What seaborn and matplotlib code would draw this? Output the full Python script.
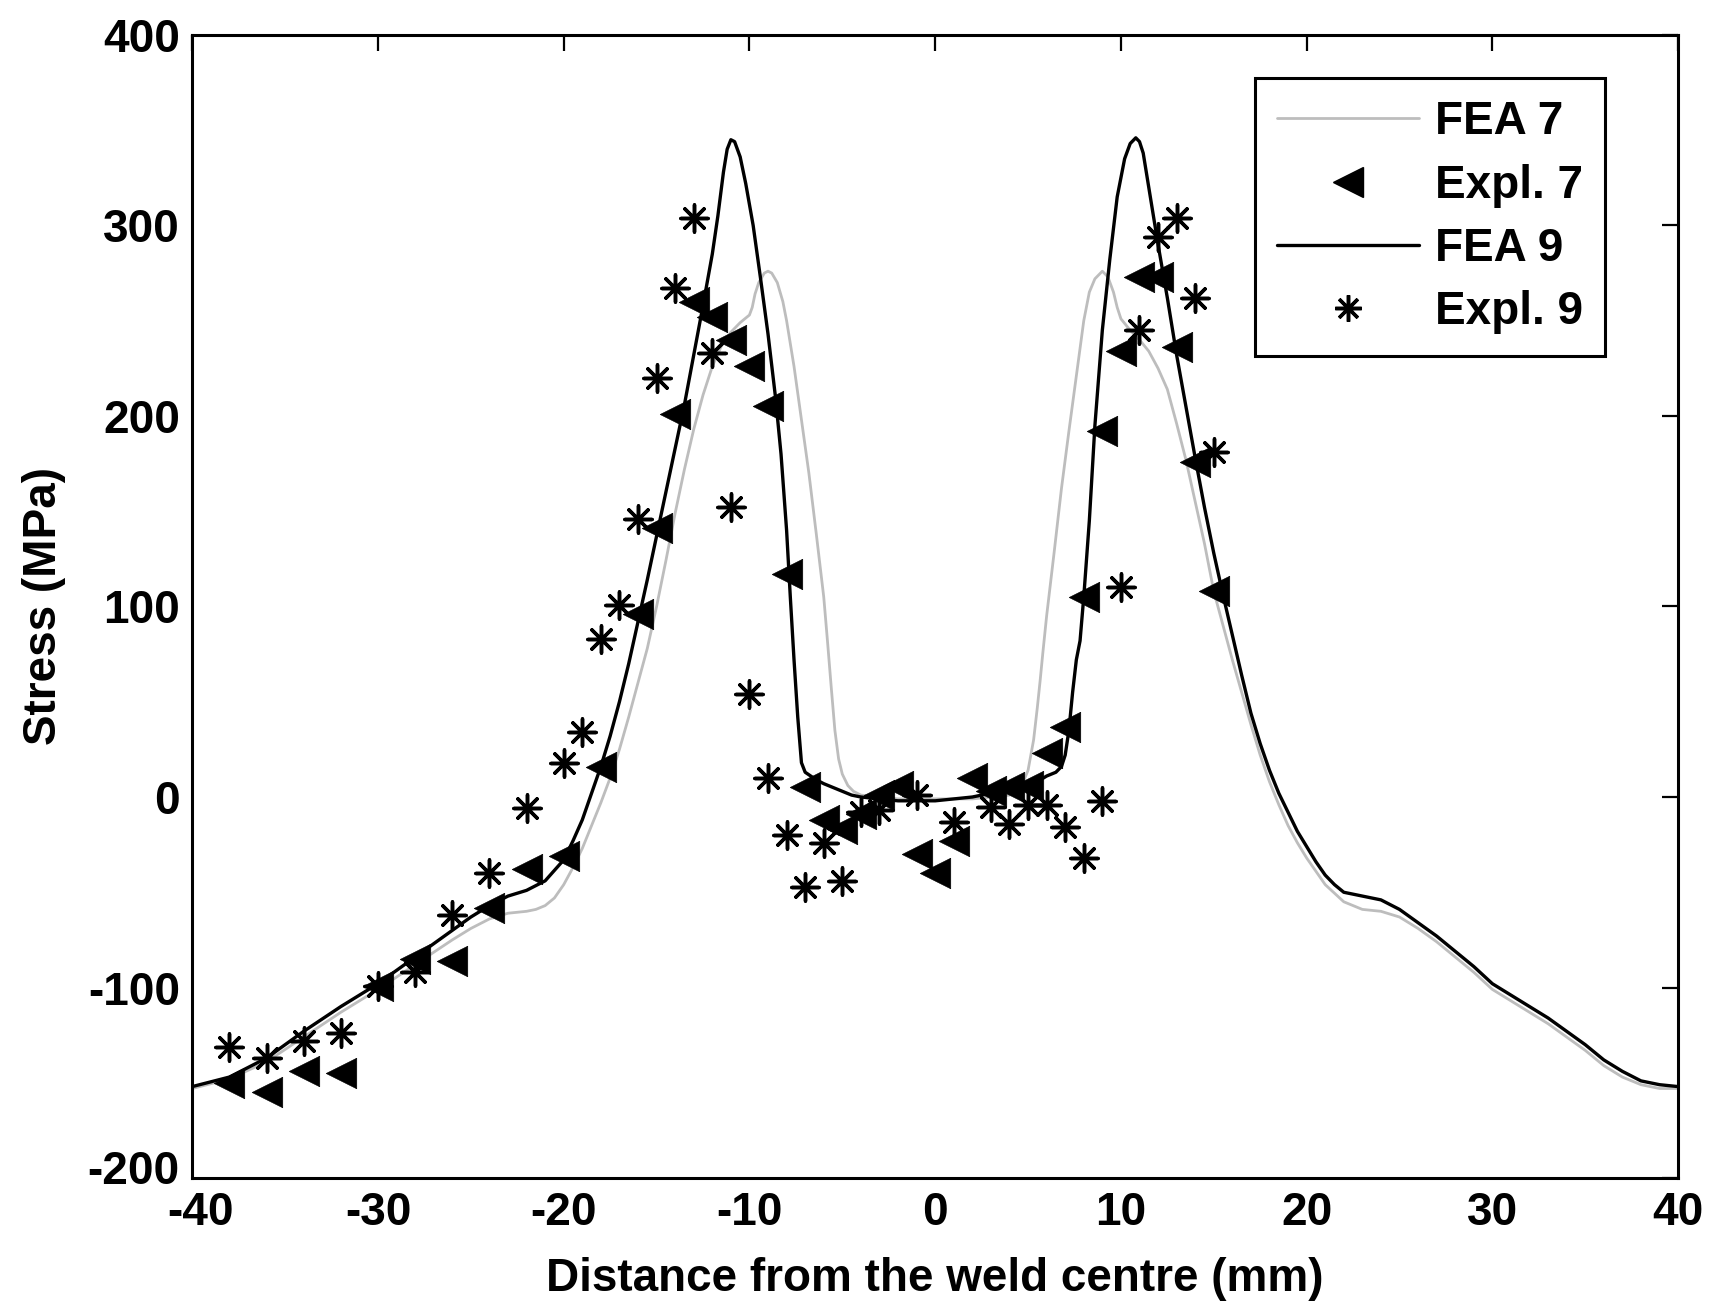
import numpy as np
import pandas as pd
import matplotlib
matplotlib.use("Agg")
import matplotlib.pyplot as plt
import matplotlib.transforms as mtransforms
from matplotlib.lines import Line2D
import seaborn as sns

# ---------------- data ----------------
fea7_x = [-40, -38, -36, -34, -32, -30, -28, -26, -25, -24, -23, -22, -21.5, -21, -20.5, -20,
          -19.5, -19, -18.5, -18, -17.5, -17, -16.5, -16, -15.5, -15, -14.5, -14, -13.5, -13,
          -12.5, -12, -11.5, -11, -10.5, -10, -9.85, -9.7, -9.5, -9.2, -9.0, -8.8, -8.5, -8.2,
          -8, -7.6, -7.2, -6.8, -6.4, -6.0, -5.8, -5.6, -5.4, -5.2, -5.0, -4.7, -4.4, -4, -3,
          -2, 0, 2, 3, 4, 4.4, 4.7, 5.0, 5.3, 5.5, 5.65, 5.8, 6.0, 6.4, 6.8, 7.2, 7.6, 8.0, 8.3,
          8.6, 9.0, 9.3, 9.6, 9.8, 10.0, 10.5, 11.0, 11.5, 12.0, 12.5, 13.0, 13.5, 14.0, 14.5,
          15.0, 15.5, 16.0, 16.5, 17, 17.5, 18, 18.5, 19, 19.5, 20, 21, 22, 23, 24, 25, 26, 27,
          28, 29, 30, 31, 32, 33, 34, 35, 36, 37, 38, 39, 40]
fea7_y = [-153, -148, -139, -126, -113, -101, -88, -75, -69, -64, -61, -60, -59, -57, -53, -46,
          -37, -27, -15, -3, 10, 25, 42, 60, 78, 100, 124, 149, 172, 193,
          211, 226, 237, 244, 249, 253, 257, 264, 270, 275, 276, 275, 270, 260,
          250, 226, 198, 170, 138, 105, 82, 58, 35, 20, 12, 6, 3, 1, 0,
          -1, -1, -1, 0, 1, 3, 7, 14, 30, 47, 61, 76, 95, 128, 162, 192, 221, 250, 265,
          272, 276, 273, 265, 257, 251, 245, 240, 234, 225, 214, 196, 177, 155, 133,
          108, 90, 72, 55, 38, 22, 8, -4, -15, -24, -32, -46, -55, -59, -60, -63, -69, -76,
          -84, -92, -101, -107, -113, -119, -126, -133, -141, -147, -151, -153, -153]

fea9_x = [-40, -38, -36, -34, -32, -30, -28, -26, -25, -24, -23, -22, -21, -20, -19.5, -19,
          -18.5, -18, -17.5, -17, -16.5, -16, -15.5, -15, -14.5, -14, -13.5, -13, -12.5, -12,
          -11.7, -11.4, -11.2, -11, -10.8, -10.5, -10.2, -9.8, -9.4, -9, -8.6, -8.3, -8, -7.8,
          -7.6, -7.4, -7.2, -7, -6.7, -6.4, -6, -5.5, -5, -4.5, -4, -3, -2, -1, 0, 1, 2, 3, 4,
          5, 5.5, 6, 6.5, 6.8, 7.0, 7.2, 7.4, 7.6, 7.8, 8.0, 8.3, 8.6, 9.0, 9.4, 9.8, 10.2,
          10.5, 10.8, 11.0, 11.2, 11.5, 12, 12.5, 13, 13.5, 14, 14.5, 15, 15.5, 16, 16.5, 17,
          17.5, 18, 18.5, 19, 19.5, 20, 20.5, 21, 21.5, 22, 23, 24, 25, 26, 27, 28, 29, 30, 31,
          32, 33, 34, 35, 36, 37, 38, 39, 40]
fea9_y = [-152, -147, -137, -123, -110, -98, -84, -70, -63, -57, -52, -49, -44, -33, -23, -12,
          2, 16, 32, 50, 70, 92, 114, 137, 160, 183, 206, 232, 258, 285,
          305, 328, 340, 345, 344, 336, 322, 300, 272, 243, 210, 180, 140, 105,
          72, 42, 18, 13, 11, 9, 7, 5, 3, 1, 0, -1, -2, -2, -2, -1, 0, 2, 4,
          6, 8, 11, 13, 16, 22, 35, 55, 72, 82, 105, 145, 195, 245, 282, 315, 335,
          343, 346, 344, 338, 320, 290, 262, 232, 205, 178, 152, 128, 106, 85, 64, 44,
          28, 14, 2, -8, -18, -26, -34, -41, -46, -50, -52, -54, -59, -66, -73, -81, -89, -98, -104,
          -110, -116, -123, -130, -138, -144, -149, -151, -152]

expl7_x = [-38, -36, -34, -32, -30, -28, -26, -24, -22, -20, -18, -16, -15, -14, -13, -12, -11,
           -10, -9, -8, -7, -6, -5, -4, -3, -2, -1, 0, 1, 2, 3, 4, 5, 6, 7, 8, 9, 10, 11, 12,
           13, 14, 15]
expl7_y = [-150, -155, -144, -145, -99, -85, -86, -58, -38, -31, 16, 96, 141, 201, 260, 252, 240,
           226, 205, 117, 5, -12, -17, -9, 1, 6, -30, -40, -23, 10, 3, 5, 6, 23, 37, 105, 192, 234,
           273, 273, 236, 176, 108]

expl9_x = [-38, -36, -34, -32, -30, -28, -26, -24, -22, -20, -19, -18, -17, -16, -15, -14, -13,
           -12, -11, -10, -9, -8, -7, -6, -5, -4, -3, -1, 1, 3, 4, 5, 6, 7, 8, 9, 10, 11, 12,
           13, 14, 15]
expl9_y = [-131, -137, -128, -124, -99, -92, -62, -40, -6, 18, 34, 83, 101, 146, 220, 267, 304,
           233, 152, 54, 10, -20, -47, -24, -44, -8, -7, 1, -13, -5, -14, -4, -4, -16, -32, -2,
           110, 245, 294, 304, 262, 181]

x_ticks = [-40, -30, -20, -10, 0, 10, 20, 30, 40]
y_ticks = [-200, -100, 0, 100, 200, 300, 400]
labels = ["FEA 7", "Expl. 7", "FEA 9", "Expl. 9"]

# ---------------- style ----------------
sns.set_theme(style="white")
plt.rcParams["font.family"] = ["Liberation Sans", "DejaVu Sans"]
plt.rcParams["font.weight"] = "bold"
for k in ["text.color", "axes.labelcolor", "xtick.color", "ytick.color", "axes.edgecolor"]:
    plt.rcParams[k] = "black"
FS = 33

fig = plt.figure(figsize=(17.12, 13.04), dpi=100)
fig.patch.set_facecolor("white")
ax = fig.add_axes([0.1123, 0.0966, 0.8679, 0.8766])
ax.set_facecolor("white")

GREY = "#bdbdbd"
star = (8, 2, 0)

df7 = pd.DataFrame({"x": fea7_x, "y": fea7_y})
df9 = pd.DataFrame({"x": fea9_x, "y": fea9_y})
e7 = pd.DataFrame({"x": expl7_x, "y": expl7_y})
e9 = pd.DataFrame({"x": expl9_x, "y": expl9_y})

sns.lineplot(data=df7, x="x", y="y", ax=ax, color=GREY, linewidth=2.0, legend=False)
sns.scatterplot(data=e7, x="x", y="y", ax=ax, marker="<", s=480, color="black",
                edgecolor="black", linewidth=0.5, legend=False, zorder=3)
sns.lineplot(data=df9, x="x", y="y", ax=ax, color="black", linewidth=2.4, legend=False, zorder=4)
sns.scatterplot(data=e9, x="x", y="y", ax=ax, marker=star, s=380, color="black",
                linewidth=2.5, legend=False, zorder=5)

ax.set_xlim(-40, 40)
ax.set_ylim(-200, 400)
ax.set_xticks(x_ticks)
ax.set_yticks(y_ticks)
ax.set_xticklabels([str(v) for v in x_ticks])
ax.set_yticklabels([str(v) for v in y_ticks])

ax.tick_params(axis="both", which="major", direction="in", length=11.5, width=1.6,
               top=True, right=True, labelsize=FS, colors="black")
ax.tick_params(axis="x", pad=9)
ax.tick_params(axis="y", pad=9)
for lab in ax.get_xticklabels() + ax.get_yticklabels():
    lab.set_fontweight("bold")

# keep the corner labels "-200" and "-40" from colliding
lab_m200 = ax.get_yticklabels()[0]
lab_m200.set_transform(lab_m200.get_transform() +
                       mtransforms.ScaledTranslation(0, 8 / 72, fig.dpi_scale_trans))
lab_m40 = ax.get_xticklabels()[0]
lab_m40.set_transform(lab_m40.get_transform() +
                      mtransforms.ScaledTranslation(6 / 72, 0, fig.dpi_scale_trans))

for sp in ax.spines.values():
    sp.set_visible(True)
    sp.set_color("black")
    sp.set_linewidth(2.2)

ax.set_xlabel("Distance from the weld centre (mm)", fontsize=FS, fontweight="bold", color="black")
ax.set_ylabel("Stress (MPa)", fontsize=FS, fontweight="bold", color="black")
ax.xaxis.label.set_va("center")
ax.yaxis.label.set_va("center")
ax.xaxis.set_label_coords(0.5, -0.088)
ax.yaxis.set_label_coords(-0.1, 0.5)

handles = [
    Line2D([], [], color=GREY, linewidth=2.0),
    Line2D([], [], color="black", marker="<", linestyle="none", markersize=21.5),
    Line2D([], [], color="black", linewidth=2.4),
    Line2D([], [], color="black", marker=star, linestyle="none", markersize=19,
           markeredgewidth=2.5),
]
leg = ax.legend(handles, labels, loc="upper right", bbox_to_anchor=(0.951, 0.962),
                borderaxespad=0, prop={"weight": "bold", "size": FS},
                handlelength=3.1, handletextpad=0.35, borderpad=0.48, labelspacing=0.42,
                fancybox=False, framealpha=1, edgecolor="black")
leg.get_frame().set_linewidth(2.2)
for t in leg.get_texts():
    t.set_color("black")

fig.savefig("out.png", dpi=100, facecolor="white")
